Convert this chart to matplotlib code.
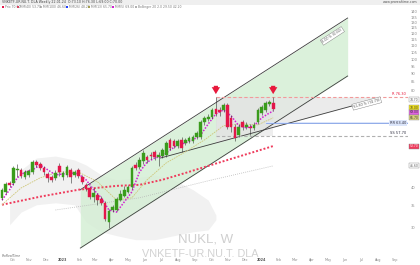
import numpy as np
import pandas as pd
import matplotlib
matplotlib.use("Agg")
import matplotlib.pyplot as plt
from matplotlib.patches import Rectangle
from matplotlib.ticker import FixedLocator, NullLocator, FixedFormatter
from matplotlib.transforms import blended_transform_factory, offset_copy

# ---- weekly candles (last week = 22 Jan 2024) ----
last_week = "2024-01-22"
opens = [37.1, 38.7, 41.3, 41.3, 45.3, 45.3, 43.1, 43.7, 44.6, 47.9,
         47.3, 45.9, 44.0, 43.1, 42.8, 46.6, 43.1, 43.7, 45.3, 43.7,
         45.3, 43.1, 40.7, 39.8, 37.4, 37.9, 36.8, 35.8, 31.2, 34.0,
         34.0, 36.5, 37.6, 38.7, 40.1, 46.9, 46.2, 48.3, 49.7, 50.4,
         51.5, 49.7, 50.0, 50.4, 56.1, 55.7, 53.7, 56.1, 54.9, 55.7,
         55.7, 57.3, 57.3, 63.8, 65.2, 66.1, 70.0, 69.5, 69.5, 72.1,
         65.7, 61.6, 58.1, 63.8, 61.6, 61.6, 61.2, 63.8, 68.0, 69.5,
         72.6, 73.1]
highs = [39.8, 41.6, 41.9, 46.6, 47.3, 45.9, 45.3, 45.6, 48.6, 48.6,
         47.9, 46.6, 44.6, 43.7, 45.3, 47.6, 44.9, 46.9, 45.9, 45.3,
         45.9, 43.7, 41.3, 40.4, 39.8, 38.5, 37.6, 36.3, 34.3, 35.3,
         37.4, 39.3, 40.4, 40.7, 46.6, 47.9, 49.7, 52.2, 50.4, 51.5,
         52.2, 51.5, 53.0, 55.7, 56.9, 56.5, 56.5, 57.3, 56.9, 57.7,
         58.1, 59.9, 64.7, 66.6, 67.6, 70.6, 76.3, 71.1, 73.1, 73.1,
         67.1, 62.9, 62.9, 64.7, 63.8, 62.9, 63.8, 70.6, 72.1, 74.2,
         74.7, 76.3]
lows = [36.5, 38.2, 40.1, 40.7, 43.1, 42.8, 42.5, 43.1, 44.0, 46.2,
        45.3, 43.7, 41.6, 41.6, 42.2, 43.4, 42.2, 43.1, 41.3, 43.1,
        42.8, 41.0, 39.0, 36.8, 36.0, 35.3, 35.3, 31.4, 29.9, 33.5,
        33.8, 36.3, 37.4, 38.5, 39.6, 45.3, 45.6, 47.3, 47.6, 49.0,
        48.6, 46.6, 49.3, 49.7, 52.2, 53.0, 53.0, 51.5, 54.1, 54.9,
        54.9, 56.5, 56.5, 62.5, 64.3, 65.2, 66.6, 66.6, 68.5, 60.7,
        59.4, 55.7, 57.3, 60.3, 60.7, 58.1, 60.3, 62.9, 67.1, 68.5,
        71.6, 69.0]
closes = [39.3, 41.0, 40.7, 45.9, 45.6, 43.4, 44.6, 44.9, 47.9, 46.9,
          45.9, 44.6, 42.8, 42.2, 44.3, 44.6, 44.3, 46.2, 43.1, 44.6,
          43.4, 41.6, 39.6, 37.4, 38.5, 36.5, 35.8, 31.9, 33.8, 34.8,
          36.8, 38.2, 39.3, 40.1, 45.9, 45.9, 48.6, 51.1, 48.6, 50.0,
          49.7, 50.4, 52.2, 54.9, 53.0, 53.7, 55.7, 53.0, 56.1, 56.9,
          57.3, 59.0, 63.8, 65.7, 66.1, 69.5, 67.6, 68.5, 72.1, 61.6,
          61.6, 56.9, 61.6, 61.6, 62.5, 61.2, 62.5, 69.5, 71.1, 73.1,
          73.7, 70.0]

# ---- indicators (read at some weeks) ----
mm5_w = [0, 2, 4, 6, 8, 10, 12, 14, 16, 18, 20, 22, 24, 26, 28, 30, 32, 34, 36,
         38, 40, 42, 44, 46, 48, 50, 52, 54, 56, 58, 60, 62, 64, 66, 68, 70, 71]
mm5 = [36.5, 39.3, 42.8, 44.6, 45.3, 46.9, 45.3, 43.7, 44.0, 44.3, 44.0, 42.2,
       39.3, 37.1, 34.0, 33.5, 36.0, 38.7, 44.6, 47.9, 49.3, 50.0, 52.2, 54.1,
       54.9, 56.1, 58.1, 62.9, 67.6, 69.5, 66.6, 62.1, 61.2, 62.1, 65.7, 68.0, 69.0]
mm13_w = [0, 5, 10, 15, 20, 25, 30, 34, 38, 43, 48, 53, 58, 63, 67, 71]
mm13 = [35.3, 39.8, 42.8, 44.6, 44.6, 41.6, 36.5, 37.1, 42.2, 47.6, 51.5, 56.1,
        62.1, 62.9, 62.5, 65.7]
mm40_w = [0, 10, 20, 30, 36, 42, 48, 54, 60, 66, 71]
mm40 = [35.3, 37.4, 39.3, 40.4, 40.7, 42.2, 44.3, 46.6, 49.0, 51.5, 53.7]
mm100_w = [14, 36, 54, 71]
mm100 = [34.0, 37.1, 41.9, 46.6]
cloud_w = [2, 5, 9, 14, 19, 22, 26, 30, 35, 40, 45, 50, 54, 56]
cloud_hi = [39.3, 45.3, 49.3, 50.0, 48.6, 46.9, 43.7, 42.2, 42.8, 43.7, 42.2, 39.3, 36.5, 32.8]
cloud_lo = [30.6, 33.5, 35.3, 35.8, 35.3, 31.2, 29.1, 28.3, 27.5, 27.5, 28.3, 29.1, 29.5, 31.7]

# ---- drawings ----
chan_w = [20.5, 90.5]
chan_lo = [25.9, 88.6]
chan_hi = [39.3, 134.1]
trend_w = [41.5, 97.5]
trend_p = [49.3, 74.7]
top_level = 76.3
support = 63.4
low_level = 57.7
box_start = 56
arrow_weeks = [56, 71]
upper_box = 74.7

weeks = pd.date_range(end=last_week, periods=len(closes), freq="W-MON")
x = np.arange(len(closes))
months = pd.date_range("2022-10-01", "2024-09-01", freq="MS")
month_pos = [(m - weeks[0]).days / 7 for m in months]
month_lab = [str(m.year) if m.month == 1 else m.strftime("%b") for m in months]

price_ticks = [140, 135, 130, 125, 120, 115, 110, 105, 100, 95, 90, 85, 80, 40, 35, 30]

UP, DOWN = "#3a9c1c", "#e3174a"

fig = plt.figure(figsize=(4.2, 2.65), dpi=100)
ax = fig.add_axes([0, 8 / 265, 408 / 420, 247 / 265])
ax.set_yscale("log")
ax.set_xlim(-0.52, 106.3)
ax.set_ylim(24.3, 142.0)
for s in ax.spines.values():
    s.set_visible(False)

# cloud
ax.fill_between(cloud_w, cloud_lo, cloud_hi, color="#f1f1f1", lw=0, zorder=1)

# regression channel
ax.fill_between(chan_w, chan_lo, chan_hi, color="#d3eed3", alpha=0.8, lw=0, zorder=2)
ax.plot(chan_w, chan_lo, color="#3c3c3c", lw=0.6, zorder=3)
ax.plot(chan_w, chan_hi, color="#3c3c3c", lw=0.6, zorder=3)

# grey box + wedge
xmax = ax.get_xlim()[1]
ax.fill_between([box_start, arrow_weeks[1]], low_level, top_level, color="#bdbdbd", alpha=0.25, lw=0, zorder=2)
xs = np.linspace(box_start, trend_w[1], 40)
ys = np.exp(np.interp(xs, trend_w, np.log(trend_p)))
ax.fill_between(xs, ys, top_level, color="#e6e6e6", alpha=0.8, lw=0, zorder=2)
ax.plot(trend_w, trend_p, color="#3c3c3c", lw=0.6, zorder=3)

# horizontal levels
ax.plot([box_start, xmax], [top_level] * 2, color="#f29a9a", lw=0.8, dashes=(3, 2), zorder=3)
ax.plot([box_start, xmax], [low_level] * 2, color="#b0b0b0", lw=0.8, dashes=(3, 2), zorder=3)
ax.fill_between([69, xmax], support * 0.993, support * 1.007, color="#dbe5fa", lw=0, zorder=2)
ax.plot([69, xmax], [support] * 2, color="#86a3e6", lw=0.6, zorder=3)

# moving averages
ax.plot(mm100_w, mm100, color="#b8b8b8", lw=0.6, ls=(0, (1, 1.5)), zorder=4)
ax.plot(mm40_w, mm40, color="#ef3b5c", lw=1.4, ls=(0, (1, 1)), zorder=4)
ax.plot(mm13_w, mm13, color="#cfc77a", lw=0.6, ls=(0, (2, 1)), zorder=4)
ax.plot(mm5_w, mm5, color="#d21fd2", lw=1.1, ls=(0, (1, 1)), zorder=4)

# candles
o, h, l, c = map(np.array, (opens, highs, lows, closes))
col = np.where(c >= o, UP, DOWN)
ax.vlines(x, l, h, color="#333333", lw=0.4, zorder=5)
ax.bar(x, np.abs(c - o), bottom=np.minimum(o, c), width=0.7, color=col,
       edgecolor=col, lw=0.3, zorder=6)

# top arrows
tr = offset_copy(ax.transData, fig=fig, y=2, units="points")
for w in arrow_weeks:
    ax.annotate("", xy=(w, highs[w]), xycoords=tr, xytext=(0, 6), textcoords="offset points",
                arrowprops=dict(arrowstyle="simple,head_length=0.5,head_width=0.6,tail_width=0.3",
                                fc="#e8193c", ec="#e8193c", lw=0, shrinkA=0, shrinkB=0), zorder=7)

# rotated labels on the drawings
lab = dict(fontsize=2.4, color="#555555", ha="center", va="center", zorder=8,
           bbox=dict(boxstyle="square,pad=0.3", fc="white", ec="#777777", lw=0.3))
ax.text(86.5, 118.0, "0.00 % (0.00)", rotation=33, **lab)
ax.text(95.5, 72.8, "61.80 % (74.70)", rotation=15, **lab)

# right labels of the levels
ax.text(xmax - 0.5, top_level * 1.004, "R 76.30", fontsize=2.6, color="#e8193c", ha="right", va="bottom", zorder=8)
ax.text(xmax - 0.5, support, "RR 63.40", fontsize=2.6, color="#334", ha="right", va="center", zorder=8,
        bbox=dict(boxstyle="square,pad=0.2", fc="#dbe5fa", ec="none"))
ax.text(xmax - 0.5, low_level * 1.005, "SS 57.70", fontsize=2.6, color="#334", ha="right", va="bottom", zorder=8)

# price axis
ax.yaxis.tick_right()
ax.yaxis.set_major_locator(FixedLocator(price_ticks))
ax.yaxis.set_major_formatter(FixedFormatter([str(p) for p in price_ticks]))
ax.yaxis.set_minor_locator(NullLocator())
ax.tick_params(axis="y", length=0, pad=2, labelsize=2.6, labelcolor="#8a8a8a")

ty = blended_transform_factory(ax.transAxes, ax.transData)
boxes = [(upper_box, "white", "#555555", 0), (closes[-1], "#f2e21a", "#333333", 1.0),
         (mm5[-1], "#e060e0", "#333333", -1.0), (mm13[-1], "#d8d27a", "#333333", 0),
         (mm40[-1], "#ef3b5c", "white", 0), (mm100[-1], "white", "#555555", 0)]
for val, fc, tc, dy in boxes:
    t = offset_copy(ty, fig=fig, y=dy, units="points")
    ax.text(1.004, val, f"{val:.2f}", transform=t, fontsize=2.2, color=tc, ha="left", va="center",
            zorder=8, bbox=dict(boxstyle="square,pad=0.15", fc=fc, ec="#888888", lw=0.3))

# date axis
ax.xaxis.set_major_locator(FixedLocator(month_pos))
ax.xaxis.set_major_formatter(FixedFormatter(month_lab))
ax.tick_params(axis="x", length=0, pad=1, labelsize=2.4, labelcolor="#8a8a8a")
for t, lbl in zip(ax.get_xticklabels(), month_lab):
    if lbl.isdigit():
        t.set_fontweight("bold")
        t.set_color("#555555")

# watermark
fig.text(0.49, 0.098, "NUKL, W", fontsize=9.5, color="#cfcfcf", ha="center", va="center",
         family="Liberation Sans")
fig.text(0.476, 0.040, "VNKETF-UR.NU.T. DLA", fontsize=7.8, color="#d2d2d2", ha="center", va="center",
         family="Liberation Sans")

# header
fig.patches.append(Rectangle((0, 1 - 4.5 / 265), 1, 4.5 / 265, transform=fig.transFigure,
                             fc="#efefef", ec="none", zorder=0))
fig.text(0.005, 1 - 2.3 / 265, "VNKETF-UR.NU.T. DLA Weekly 22.01.24  O:73.10 H:76.30 L:69.00 C:70.00",
         fontsize=2.3, color="#444444", va="center")
fig.text(0.995, 1 - 2.3 / 265, "www.prorealtime.com", fontsize=2.3, color="#555555", va="center", ha="right")
legend = [("#e3174a", "Prix 70.00"), ("#ef3b5c", "MM(40) 53.70"), ("#b8b8b8", "MM(100) 46.60"),
          ("#2040ff", "MM(26) 48.20"), ("#b8b040", "MM(13) 65.70"), ("#d21fd2", "MM(5) 69.00"),
          ("#b0b0b0", "Bollinger 20 2.0 29.50 42.20")]
lx = [2, 17, 40, 66, 88, 112, 135]
for px, (cc, txt) in zip(lx, legend):
    fig.patches.append(Rectangle((px / 420, 1 - 8 / 265), 2.2 / 420, 2.2 / 265,
                                 transform=fig.transFigure, fc=cc, ec="none"))
    fig.text((px + 3) / 420, 1 - 6.9 / 265, txt, fontsize=2.2, color="#777777", va="center")
fig.text(0.005, 9 / 265, "ProRealTime", fontsize=2.2, color="#666666", va="center", style="italic")

fig.savefig("out.png", dpi=100)
